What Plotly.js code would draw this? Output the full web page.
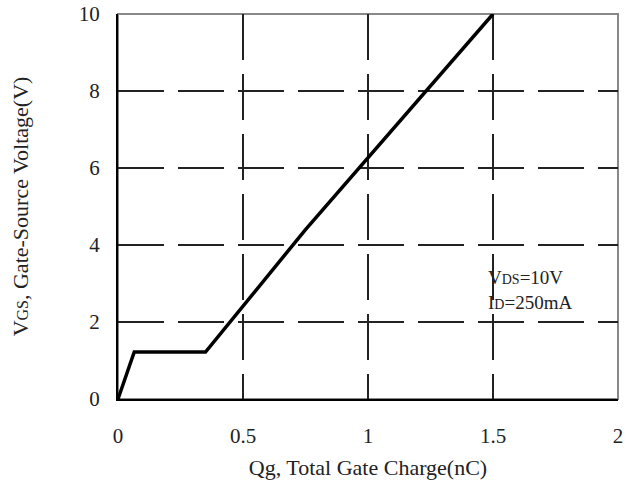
<!DOCTYPE html>
<html><head><meta charset="utf-8">
<script src="https://cdn.plot.ly/plotly-3.0.1.min.js"></script>
<style>html,body{margin:0;padding:0;background:#fff}</style>
</head><body>
<div id="chart" style="width:631px;height:488px"></div>
<script>
const qg = [0, 0.065, 0.35, 0.75, 1.5];
const vgs = [0, 1.22, 1.22, 4.4, 10];
const xTicks = [0, 0.5, 1, 1.5, 2];
const xTickLabels = ['0', '0.5', '1', '1.5', '2'];
const yTicks = [0, 2, 4, 6, 8, 10];
const yTickLabels = ['0', '2', '4', '6', '8', '10'];

const font = 'Liberation Serif, Times New Roman, serif';
Plotly.newPlot('chart', [{
  x: qg, y: vgs, mode: 'lines', type: 'scatter',
  line: {color: '#000', width: 3.5}, hoverinfo: 'skip'
}], {
  width: 631, height: 488,
  margin: {l: 118, r: 13, t: 14, b: 89},
  paper_bgcolor: '#fff', plot_bgcolor: '#fff',
  showlegend: false,
  font: {family: font, size: 18, color: '#222'},
  xaxis: {
    range: [0, 2], tickvals: xTicks, ticktext: xTickLabels,
    showgrid: true, gridcolor: '#222', gridwidth: 1.3, griddash: '46px,14px',
    zeroline: false, showline: true, linecolor: '#000', linewidth: 2,
    ticks: 'outside', ticklen: 17, tickcolor: 'rgba(0,0,0,0)',
    tickfont: {family: font, size: 21, color: '#222'},
    title: {text: 'Qg, Total Gate Charge(nC)', font: {family: font, size: 22, color: '#222'}, standoff: 12}
  },
  yaxis: {
    range: [0, 10], tickvals: yTicks, ticktext: yTickLabels,
    showgrid: true, gridcolor: '#222', gridwidth: 1.3, griddash: '46px,14px',
    zeroline: false, showline: true, linecolor: '#000', linewidth: 2,
    ticks: 'outside', ticklen: 12, tickcolor: 'rgba(0,0,0,0)',
    tickfont: {family: font, size: 21, color: '#222'},
    title: {text: 'V<span style="font-size:16px">GS</span>, Gate-Source Voltage(V)', font: {family: font, size: 22, color: '#222'}, standoff: 44}
  },
  shapes: [{
    type: 'rect', xref: 'paper', yref: 'paper', x0: 0, x1: 1, y0: 0, y1: 1,
    line: {color: '#888', width: 2}, layer: 'below'
  }],
  annotations: [{
    xref: 'x', yref: 'y', x: 1.47, y: 2.83, xanchor: 'left', yanchor: 'middle', showarrow: false, align: 'left',
    text: 'V<span style="font-size:14px">DS</span>=10V<br>I<span style="font-size:14px">D</span>=250mA',
    font: {family: font, size: 19, color: '#222'}
  }]
}, {displayModeBar: false, staticPlot: true});
</script>
</body></html>
